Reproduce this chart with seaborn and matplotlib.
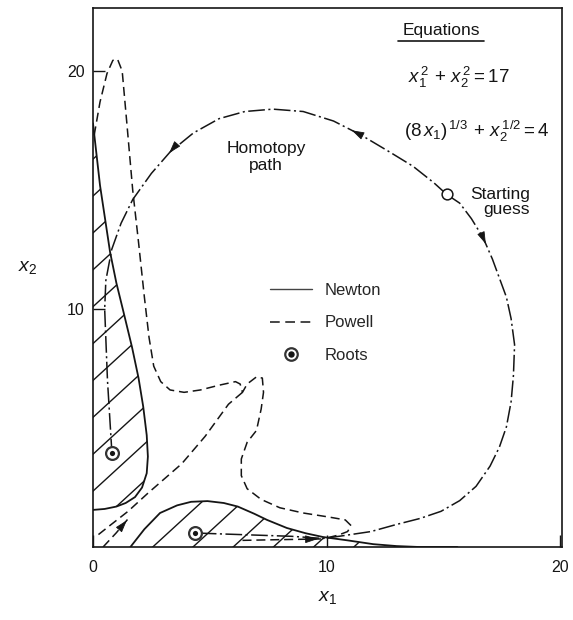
import numpy as np
import pandas as pd
import matplotlib
matplotlib.use("Agg")
import matplotlib.pyplot as plt
import seaborn as sns
from matplotlib.patches import Polygon
from matplotlib.collections import LineCollection
from matplotlib.lines import Line2D
from matplotlib.legend_handler import HandlerTuple

# ---------------- data ----------------
# Newton failure region 1 (left, hatched) boundary
newton_left_x = [0.0, 0.3, 0.73, 1.0, 1.3, 1.67, 1.95, 2.15, 2.3, 2.35, 2.3, 2.1, 1.8, 1.4, 1.0, 0.5, 0.0]
newton_left_y = [17.8, 15.2, 12.4, 11.1, 9.9, 8.4, 7.1, 5.9, 4.7, 3.8, 3.1, 2.5, 2.1, 1.85, 1.7, 1.6, 1.56]
# Newton failure region 2 (bottom, hatched) boundary
newton_bot_x = [1.6, 2.2, 2.87, 3.6, 4.2, 4.9, 5.6, 6.2, 6.9, 7.45, 8.3, 9.1, 9.85, 10.9, 12.0, 13.0, 14.0, 15.6]
newton_bot_y = [0.0, 0.75, 1.43, 1.75, 1.9, 1.93, 1.85, 1.7, 1.4, 1.14, 0.8, 0.58, 0.42, 0.28, 0.12, 0.04, 0.0, 0.0]
# Powell boundary (main branch) and diagonal branch from the cusp
powell_x = [0.05, 0.3, 0.6, 0.85, 1.05, 1.25, 1.45, 1.7, 1.95, 2.2, 2.4, 2.6, 2.9, 3.3, 3.9, 4.6, 5.4,
            6.1, 6.3, 6.4, 6.6, 7.0, 7.25, 7.3, 7.2, 7.0, 6.6, 6.35, 6.35, 6.6, 7.2, 8.0, 9.0, 10.1,
            10.8, 11.05, 10.9, 10.5, 10.0]
powell_y = [17.3, 18.7, 19.9, 20.45, 20.5, 20.0, 17.8, 15.0, 12.8, 10.5, 8.8, 7.6, 6.95, 6.6, 6.5, 6.6, 6.8,
            6.95, 6.85, 6.5, 6.85, 7.15, 7.1, 6.5, 5.8, 4.9, 4.4, 3.7, 3.0, 2.45, 2.0, 1.65, 1.43, 1.26,
            1.14, 0.9, 0.65, 0.5, 0.38]
powell_diag_x = [6.4, 5.8, 4.8, 3.8, 2.36, 1.5, 0.64, 0.1]
powell_diag_y = [6.5, 6.0, 4.65, 3.5, 2.27, 1.5, 0.84, 0.42]
# Homotopy path, from the starting guess in both directions
hom_left_x = [15.14, 14.6, 13.7, 12.7, 11.5, 10.3, 9.0, 7.7, 6.5, 5.4, 4.3, 3.3, 2.5, 1.7, 1.2, 0.8, 0.55, 0.5, 0.62, 0.81]
hom_left_y = [14.82, 15.3, 16.0, 16.6, 17.3, 17.9, 18.3, 18.4, 18.3, 18.0, 17.4, 16.6, 15.7, 14.6, 13.6, 12.5, 11.2, 10.0, 7.0, 3.96]
hom_right_x = [15.14, 15.7, 16.2, 16.7, 17.1, 17.4, 17.7, 17.9, 18.05, 18.0, 17.9, 17.7, 17.4, 17.0, 16.4,
               15.7, 14.9, 14.0, 13.0, 11.9, 10.6, 9.85, 8.5, 7.0, 5.5, 4.37]
hom_right_y = [14.82, 14.45, 13.8, 13.0, 12.1, 11.3, 10.5, 9.6, 8.5, 7.2, 6.1, 5.05, 4.2, 3.4, 2.55,
               1.95, 1.5, 1.2, 0.95, 0.65, 0.46, 0.36, 0.45, 0.5, 0.55, 0.59]
# short trajectories near the x1 axis
seg_a_x = [0.43, 1.0, 1.6]
seg_a_y = [0.0, 0.6, 1.3]
seg_b_x = [6.4, 8.0, 9.8]
seg_b_y = [0.28, 0.31, 0.34]
# roots and starting guess
roots_x = [0.81, 4.37]
roots_y = [3.96, 0.59]
start_x = [15.14]
start_y = [14.82]

x_ticks = [0, 10, 20]
y_ticks = [10, 20]
legend_labels = ["Newton", "Powell", "Roots"]

# ---------------- style ----------------
sns.set_style("white")
plt.rcParams["font.family"] = ["Liberation Sans", "DejaVu Sans"]
plt.rcParams["mathtext.fontset"] = "custom"
plt.rcParams["mathtext.rm"] = "Liberation Sans"
plt.rcParams["mathtext.it"] = "Liberation Sans:italic"
plt.rcParams["lines.scale_dashes"] = False

INK = "#151515"
DASH = (0, (6.5, 3.5))
DASHDOT = (0, (12, 2.5, 1.5, 2.5))

fig = plt.figure(figsize=(5.73, 6.2), dpi=100)
ax = fig.add_axes([0.1623, 0.1177, 0.8185, 0.8694])
ax.set_xlim(0, 20.08)
ax.set_ylim(0, 22.65)


def curve(xs, ys, ls, lw=1.1):
    df = pd.DataFrame({"x": xs, "y": ys})
    sns.lineplot(data=df, x="x", y="y", sort=False, estimator=None, color=INK,
                 lw=lw, linestyle=ls, ax=ax, legend=False)


def arrow(xs, ys, i, frac):
    p0 = np.array([xs[i], ys[i]])
    p1 = np.array([xs[i + 1], ys[i + 1]])
    d = (p1 - p0) / np.linalg.norm(p1 - p0)
    tip = p0 + frac * (p1 - p0)
    ax.annotate("", xy=tip, xytext=tip - 0.35 * d,
                arrowprops=dict(arrowstyle="-|>,head_length=0.7,head_width=0.22",
                                color=INK, lw=0.6, shrinkA=0, shrinkB=0, mutation_scale=11))


def hatch(xs, ys, extra):
    px = list(xs) + [p[0] for p in extra]
    py = list(ys) + [p[1] for p in extra]
    poly = Polygon(np.column_stack([px, py]), closed=True, fill=False, lw=0)
    ax.add_patch(poly)
    segs = []
    for c in np.arange(-20, 24, 1.55) + 2.2 % 1.55:
        segs.append([(-2, 0.9 * -2 + c), (22, 0.9 * 22 + c)])
    lc = LineCollection(segs, colors=INK, linewidths=1.0)
    ax.add_collection(lc)
    lc.set_clip_path(poly)


# hatched Newton regions
hatch(newton_left_x, newton_left_y, [(0.0, 17.8)])
hatch(newton_bot_x, newton_bot_y, [])
curve(newton_left_x, newton_left_y, "-", lw=1.3)
curve(newton_bot_x, newton_bot_y, "-", lw=1.3)

# Powell boundary
curve(powell_x, powell_y, DASH)
curve(powell_diag_x, powell_diag_y, DASH)

# Homotopy path
curve(hom_left_x, hom_left_y, DASHDOT)
curve(hom_right_x, hom_right_y, DASHDOT)
curve(seg_a_x, seg_a_y, DASH)
curve(seg_b_x, seg_b_y, DASH)
arrow(hom_left_x, hom_left_y, 4, 0.35)
arrow(hom_left_x, hom_left_y, 11, 0.05)
arrow(hom_right_x, hom_right_y, 3, 0.3)
arrow(seg_a_x, seg_a_y, 1, 0.75)
arrow(seg_b_x, seg_b_y, 1, 0.9)

# roots and starting guess
sns.scatterplot(x=roots_x, y=roots_y, s=85, marker="o", facecolor="white",
                edgecolor="#333333", linewidth=1.6, ax=ax, zorder=5)
sns.scatterplot(x=roots_x, y=roots_y, s=14, marker="o", color=INK, linewidth=0, ax=ax, zorder=6)
sns.scatterplot(x=start_x, y=start_y, s=60, marker="o", facecolor="white",
                edgecolor=INK, linewidth=1.1, ax=ax, zorder=5)

# legend
h_newton = Line2D([], [], color="#444444", lw=1.0)
h_powell = Line2D([], [], color=INK, lw=1.1, linestyle=(0, (7, 4)))
h_ring = Line2D([], [], ls="none", marker="o", ms=9, mfc="white", mec="#333333", mew=1.6)
h_dot = Line2D([], [], ls="none", marker="o", ms=3.6, mfc=INK, mec=INK)
ax.legend([h_newton, h_powell, (h_ring, h_dot)], legend_labels,
          handler_map={tuple: HandlerTuple(ndivide=1)},
          loc="upper left", bbox_to_anchor=(7.58, 11.1), bbox_transform=ax.transData,
          frameon=False, fontsize=12, handlelength=2.5, handletextpad=0.75,
          labelspacing=1.05, borderpad=0, borderaxespad=0)

# annotations
t_eq = ax.text(14.9, 21.7, "Equations", fontsize=12.5, ha="center", va="center", color=INK)
ax.text(15.65, 19.75, r"$x_1^{\,2}\, +\, x_2^{\,2} = 17$", fontsize=13.5, ha="center", va="center", color=INK)
ax.text(16.45, 17.45, r"$(8\,x_1)^{\,1/3}\, +\, x_2^{\,1/2} = 4$", fontsize=13.5, ha="center", va="center", color=INK)
ax.text(7.4, 16.4, "Homotopy\npath", fontsize=12.5, ha="center", va="center",
        multialignment="center", linespacing=1.15, color=INK)
ax.text(18.7, 14.5, "Starting\nguess", fontsize=12.5, ha="right", va="center",
        multialignment="right", linespacing=1.05, color=INK)

# axes
ax.set_xticks(x_ticks)
ax.set_yticks(y_ticks)
ax.tick_params(axis="both", which="both", direction="in", length=8.6, width=1.0,
               colors=INK, labelsize=11.5, top=False, right=False, bottom=True, left=True)
ax.tick_params(axis="x", pad=9)
ax.tick_params(axis="y", pad=6)
for s in ax.spines.values():
    s.set_visible(True)
    s.set_color(INK)
    s.set_linewidth(1.2)
ax.set_xlabel(r"$x_1$", fontsize=14, color=INK)
ax.set_ylabel(r"$x_2$", fontsize=14, color=INK, rotation=0, ha="center", va="center")
ax.xaxis.set_label_coords(0.5, -0.078)
ax.yaxis.set_label_coords(-0.14, 0.518)

# underline "Equations"
fig.canvas.draw()
bb = t_eq.get_window_extent().transformed(ax.transAxes.inverted())
ax.plot([bb.x0 - 0.01, bb.x1 + 0.01], [bb.y0 - 0.006, bb.y0 - 0.006], transform=ax.transAxes,
        color=INK, lw=1.2)

fig.savefig("out.png", dpi=100)
